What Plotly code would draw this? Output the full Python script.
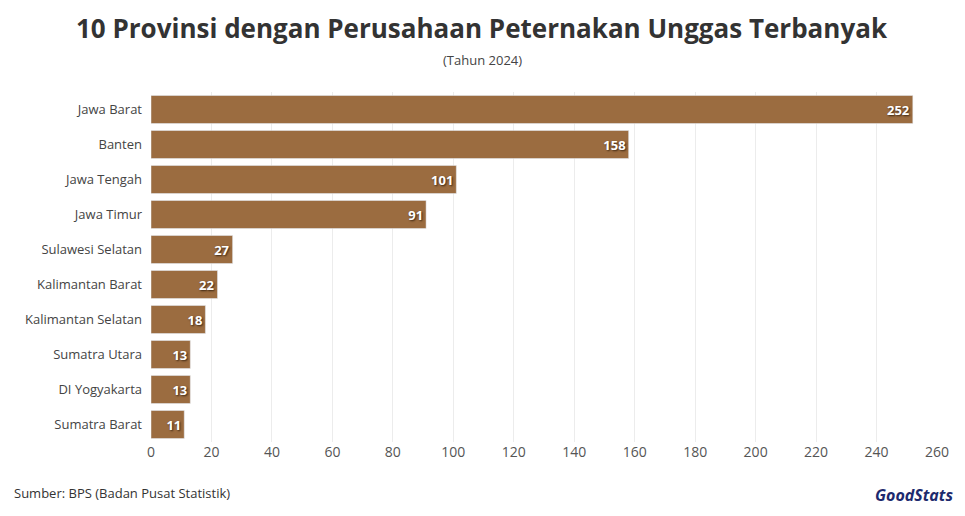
import plotly.graph_objects as go

provinsi = ["Jawa Barat", "Banten", "Jawa Tengah", "Jawa Timur", "Sulawesi Selatan",
            "Kalimantan Barat", "Kalimantan Selatan", "Sumatra Utara", "DI Yogyakarta", "Sumatra Barat"]
jumlah = [252, 158, 101, 91, 27, 22, 18, 13, 13, 11]
x_ticks = list(range(0, 261, 20))

# the page body has an 8px margin, so the figure is drawn 8px smaller and shifted
OFF = 8
W, H = 965 - OFF, 516 - OFF
L, R, T, B = 151 - OFF, 28, 92 - OFF, 74
pw, ph = W - L - R, H - T - B
FONT = "Open Sans"


def px(x, y):
    # screen pixel position -> paper coords
    return (x - OFF - L) / pw, (H - B - (y - OFF)) / ph


fig = go.Figure(go.Bar(
    x=jumlah, y=provinsi, orientation="h",
    marker=dict(color="#9b6c40"),
    width=0.8,
    text=jumlah, textposition="inside", insidetextanchor="end",
    textfont=dict(family=FONT, size=13, color="white", weight="bold",
                  shadow="1px 1px 2px #3a2410"),
    cliponaxis=False,
))

annots = []
for txt, (x, y), anchor, font in [
    ("<b>10 Provinsi dengan Perusahaan Peternakan Unggas Terbanyak</b>", (482, 28), "center",
     dict(size=26, color="#333")),
    ("(Tahun 2024)", (482, 60), "center", dict(size=13, color="#444")),
    ("Sumber: BPS (Badan Pusat Statistik)", (12, 493), "left", dict(size=13, color="#333")),
    ("<b><i>GoodStats</i></b>", (955, 495), "right", dict(size=16, color="#1d2a6e")),
]:
    ax, ay = px(x, y)
    annots.append(dict(text=txt, x=ax, y=ay, xref="paper", yref="paper", xanchor=anchor,
                       yanchor="middle", showarrow=False, font=font))

fig.update_layout(
    width=W, height=H,
    margin=dict(l=L, r=R, t=T, b=B, autoexpand=False),
    paper_bgcolor="white", plot_bgcolor="white",
    font=dict(family=FONT, color="#333"),
    showlegend=False,
    annotations=annots,
)

fig.update_xaxes(range=[0, 260], tickvals=x_ticks, showgrid=True, gridcolor="#ececec",
                 zeroline=False, tickfont=dict(size=14, color="#555"), ticks="", showline=False,
                 automargin=False)
fig.update_yaxes(autorange="reversed", tickfont=dict(size=13, color="#444"),
                 ticks="", ticklabelstandoff=8, showgrid=False, automargin=False)

fig.write_html("out.html")
